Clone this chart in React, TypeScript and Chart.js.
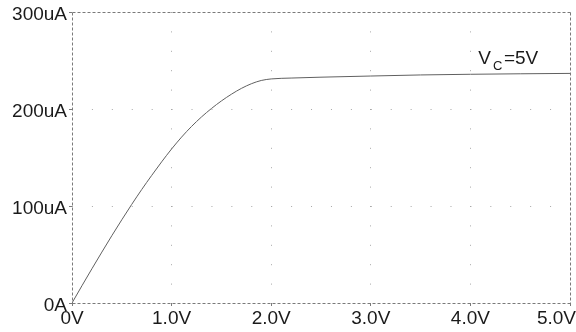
import React, { useEffect, useRef } from "react";
import { Chart, registerables } from "chart.js";

Chart.register(...registerables);

// Collector voltage (V) and collector current (uA)
const voltages = [0, 0.1, 0.2, 0.3, 0.4, 0.5, 0.6, 0.7, 0.8, 0.9, 1.0, 1.1, 1.2, 1.3, 1.4, 1.5, 1.6, 1.7, 1.8, 1.9, 2.0, 2.2, 2.5, 3.0, 3.5, 4.0, 4.5, 5.0];
const currents = [0, 17.8, 35.3, 52.5, 69.4, 85.8, 101.7, 117, 131.5, 145.5, 158.8, 171, 182, 191.8, 200.5, 208.3, 215.2, 221.2, 226, 229.4, 231, 231.9, 232.8, 234, 235.1, 235.8, 236.3, 236.7];

const xTickValues = [0, 1, 2, 3, 4, 5];
const xTickLabels = ["0V", "1.0V", "2.0V", "3.0V", "4.0V", "5.0V"];
const yTickValues = [0, 100, 200, 300];
const yTickLabels = ["0A", "100uA", "200uA", "300uA"];

const curveLabelMain = "V";
const curveLabelSub = "C";
const curveLabelTail = "=5V";
const curveLabelAnchor = { x: 4.08, y: 246.4 };

const FONT = '"Liberation Sans", Arial, sans-serif';
const TEXT_COLOR = "#1a1a1a";

export default function App() {
  const canvasRef = useRef<HTMLCanvasElement | null>(null);

  useEffect(() => {
    const canvas = canvasRef.current;
    if (!canvas) return;

    const framePlugin = {
      id: "frame",
      beforeDatasetsDraw(chart: any) {
        const { ctx, chartArea } = chart;
        const l = Math.round(chartArea.left) + 0.5;
        const r = Math.round(chartArea.right) + 0.5;
        const t = Math.round(chartArea.top) + 0.5;
        const b = Math.round(chartArea.bottom) + 0.5;
        ctx.save();
        ctx.strokeStyle = "#7a7a7a";
        ctx.lineWidth = 1;
        ctx.setLineDash([3, 2]);
        ctx.beginPath();
        ctx.moveTo(l, t);
        ctx.lineTo(r, t);
        ctx.moveTo(l, b);
        ctx.lineTo(r, b);
        ctx.moveTo(l, t);
        ctx.lineTo(l, b);
        ctx.moveTo(r, t);
        ctx.lineTo(r, b);
        ctx.stroke();
        ctx.restore();
      },
      afterDraw(chart: any) {
        const { ctx } = chart;
        const xs = chart.scales.x;
        const ys = chart.scales.y;
        const W = chart.width;
        ctx.save();
        ctx.fillStyle = TEXT_COLOR;
        ctx.font = `19px ${FONT}`;
        ctx.textAlign = "center";
        ctx.textBaseline = "alphabetic";
        xTickValues.forEach((v, i) => {
          const label = xTickLabels[i];
          const w = ctx.measureText(label).width;
          let px = xs.getPixelForValue(v);
          px = Math.max(w / 2, Math.min(W - w / 2, px));
          ctx.fillText(label, px, chart.chartArea.bottom + 21);
        });
        // curve label V_C=5V
        let ax = xs.getPixelForValue(curveLabelAnchor.x);
        const ay = ys.getPixelForValue(curveLabelAnchor.y);
        ctx.textAlign = "left";
        ctx.font = `19px ${FONT}`;
        ctx.fillText(curveLabelMain, ax, ay);
        ax += ctx.measureText(curveLabelMain).width + 2;
        ctx.font = `13px ${FONT}`;
        ctx.fillText(curveLabelSub, ax, ay + 6);
        ax += ctx.measureText(curveLabelSub).width + 1.5;
        ctx.font = `19px ${FONT}`;
        ctx.fillText(curveLabelTail, ax, ay);
        ctx.restore();
      },
    };

    const gridColor = (c: any) =>
      c.tick && (c.tick.value === c.scale.min || c.tick.value === c.scale.max) ? "rgba(0,0,0,0)" : "#a8a8a8";

    const chart = new Chart(canvas, {
      type: "line",
      data: {
        datasets: [
          {
            data: voltages.map((v, i) => ({ x: v, y: currents[i] })),
            borderColor: "#606060",
            borderWidth: 1,
            pointRadius: 0,
            cubicInterpolationMode: "monotone",
            fill: false,
          },
        ],
      },
      options: {
        animation: false,
        responsive: false,
        devicePixelRatio: 1,
        layout: { padding: { top: 12, right: 6, left: 0, bottom: 0 } },
        plugins: { legend: { display: false }, tooltip: { enabled: false } },
        scales: {
          x: {
            type: "linear",
            min: 0,
            max: 5,
            afterBuildTicks: (s: any) => {
              s.ticks = xTickValues.map((v) => ({ value: v }));
            },
            ticks: { display: false },
            grid: {
              color: gridColor,
              lineWidth: 1,
              drawTicks: true,
              tickLength: 3,
              tickColor: "#7a7a7a",
              tickWidth: 1,
            },
            border: { display: false, dash: [1, 18.4] },
            afterFit: (s: any) => {
              s.height = 29;
              s.paddingLeft = 0;
              s.paddingRight = 0;
            },
          },
          y: {
            type: "linear",
            min: 0,
            max: 300,
            afterBuildTicks: (s: any) => {
              s.ticks = yTickValues.map((v) => ({ value: v }));
            },
            ticks: {
              callback: (_v: any, i: number) => yTickLabels[i],
              font: { family: FONT, size: 19 },
              color: TEXT_COLOR,
              padding: 2,
              labelOffset: 2.5,
            },
            grid: {
              color: gridColor,
              lineWidth: 1,
              drawTicks: true,
              tickLength: 3,
              tickColor: "#7a7a7a",
              tickWidth: 1,
            },
            border: { display: false, dash: [1, 18.92] },
            afterFit: (s: any) => {
              s.width = 72;
              s.paddingTop = 0;
              s.paddingBottom = 0;
            },
          },
        },
      },
      plugins: [framePlugin],
    } as any);

    return () => chart.destroy();
  }, []);

  return (
    <div style={{ position: "fixed", left: 0, top: 0, width: 576, height: 332, background: "#fff" }}>
      <canvas ref={canvasRef} width={576} height={332} />
    </div>
  );
}
